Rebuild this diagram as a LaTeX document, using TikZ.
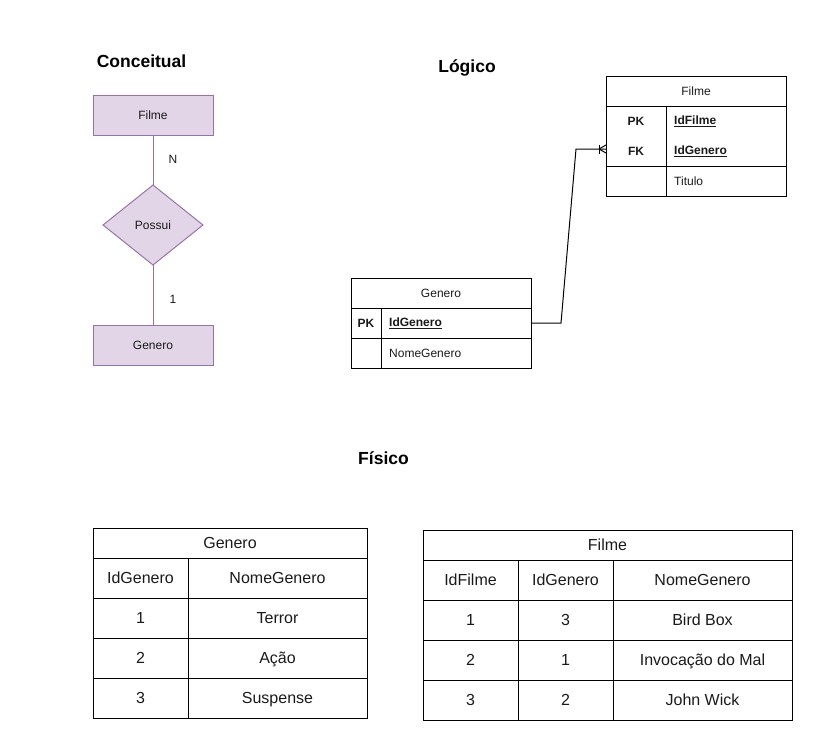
\documentclass[tikz,border=0pt]{standalone}
\usepackage{fontspec}
\setmainfont{Liberation Sans}
\usetikzlibrary{shapes.geometric}
\definecolor{erfill}{HTML}{E1D5E7}
\definecolor{erline}{HTML}{9673A6}
\definecolor{txt}{HTML}{1A1A1A}
\tikzset{
  titletext/.style={font=\fontsize{17.5}{20}\selectfont\bfseries, text=black, inner sep=0},
  smalltext/.style={font=\fontsize{12}{14}\selectfont, text=txt, inner sep=0},
  entbox/.style={rectangle, draw=erline, fill=erfill, line width=1pt, minimum width=120, minimum height=40, inner sep=0, outer sep=0, font=\fontsize{12}{14}\selectfont, text=txt},
  relbox/.style={diamond, draw=erline, fill=erfill, line width=1pt, minimum width=100, minimum height=80, inner sep=0, outer sep=0, font=\fontsize{12}{14}\selectfont, text=txt},
  erlink/.style={draw=erline, line width=1pt},
  lcell/.style={rectangle, draw=black, line width=1pt, inner sep=0, outer sep=0, anchor=north west, font=\fontsize{12}{14}\selectfont, text=txt, text height=8.6pt, text depth=0pt},
  pcell/.style={rectangle, draw=black, line width=1pt, inner sep=0, outer sep=0, anchor=north west, font=\fontsize{16}{19}\selectfont, text=txt, text height=11.5pt, text depth=0pt},
  keytext/.style={font=\fontsize{12}{14}\selectfont\bfseries, text=txt, inner sep=0},
  conn/.style={draw=black, line width=1pt},
}
\newcommand\tcell[7]{\node[#1, minimum width=#5, minimum height=#6] (#2) at (#3,#4) {#7};}
\begin{document}
\begin{tikzpicture}[x=1pt,y=-1pt]
\useasboundingbox (0,0) rectangle (826,755);

% ---------- Conceitual ----------
\node[titletext] (tconc) at (141.5,61) {Conceitual};
\node[entbox] (cfilme) at (153,115) {Filme};
\node[relbox] (cpossui) at (153,225) {Possui};
\node[entbox] (cgenero) at (153,345) {Genero};
\draw[erlink] (cfilme.south) -- (cpossui.north);
\draw[erlink] (cpossui.south) -- (cgenero.north);
\node[smalltext] (lN) at (173,159) {N};
\node[smalltext] (l1) at (173,299) {1};

% ---------- Logico ----------
\node[titletext] (tlog) at (467,68) {Lógico};

% Filme (logical)
\tcell{lcell}{lfh}{606}{76}{180}{30}{Filme}
\tcell{lcell}{lfk1}{606}{106}{60}{60}{}
\tcell{lcell}{lfa1}{666}{106}{120}{60}{}
\tcell{lcell}{lfk2}{606}{166}{60}{30}{}
\tcell{lcell}{lfa2}{666}{166}{120}{30}{}
\node[keytext] (lfpk) at (636,121) {PK};
\node[keytext] (lffk) at (636,151) {FK};
\node[keytext, anchor=west] (lfid) at (674,121) {\underline{IdFilme}};
\node[keytext, anchor=west] (lfidg) at (674,151) {\underline{IdGenero}};
\node[smalltext, anchor=west] (lftit) at (674,181) {Titulo};

% Genero (logical)
\tcell{lcell}{lgh}{351}{278}{180}{30}{Genero}
\tcell{lcell}{lgk1}{351}{308}{30}{30}{}
\tcell{lcell}{lga1}{381}{308}{150}{30}{}
\tcell{lcell}{lgk2}{351}{338}{30}{30}{}
\tcell{lcell}{lga2}{381}{338}{150}{30}{}
\node[keytext] (lgpk) at (366,323) {PK};
\node[keytext, anchor=west] (lgid) at (389,323) {\underline{IdGenero}};
\node[smalltext, anchor=west] (lgnome) at (389,353) {NomeGenero};

% connector with crow's foot (one or many)
\coordinate (fkin) at ([yshift=2pt]lfk1.west |- lffk);
\draw[conn] (lga1.east) -- ++(30,0) -- ([xshift=-30pt]fkin) -- (fkin);
\draw[conn] ([xshift=-7pt,yshift=4.5pt]fkin) -- ([xshift=-7pt,yshift=-4.5pt]fkin);
\draw[conn] ([xshift=-7pt]fkin) -- ([yshift=4pt]fkin);
\draw[conn] ([xshift=-7pt]fkin) -- ([yshift=-4pt]fkin);

% ---------- Fisico ----------
\node[titletext] (tfis) at (383.5,458) {Físico};

% Genero (physical)
\tcell{pcell}{pgh}{93}{528}{274}{30}{Genero}
\tcell{pcell}{pg01}{93}{558}{95}{40}{IdGenero}
\tcell{pcell}{pg02}{188}{558}{179}{40}{NomeGenero}
\tcell{pcell}{pg11}{93}{598}{95}{40}{1}
\tcell{pcell}{pg12}{188}{598}{179}{40}{Terror}
\tcell{pcell}{pg21}{93}{638}{95}{40}{2}
\tcell{pcell}{pg22}{188}{638}{179}{40}{Ação}
\tcell{pcell}{pg31}{93}{678}{95}{40}{3}
\tcell{pcell}{pg32}{188}{678}{179}{40}{Suspense}

% Filme (physical)
\tcell{pcell}{pfh}{423}{530}{369}{30}{Filme}
\tcell{pcell}{pf01}{423}{560}{95}{40}{IdFilme}
\tcell{pcell}{pf02}{518}{560}{95}{40}{IdGenero}
\tcell{pcell}{pf03}{613}{560}{179}{40}{NomeGenero}
\tcell{pcell}{pf11}{423}{600}{95}{40}{1}
\tcell{pcell}{pf12}{518}{600}{95}{40}{3}
\tcell{pcell}{pf13}{613}{600}{179}{40}{Bird Box}
\tcell{pcell}{pf21}{423}{640}{95}{40}{2}
\tcell{pcell}{pf22}{518}{640}{95}{40}{1}
\tcell{pcell}{pf23}{613}{640}{179}{40}{Invocação do Mal}
\tcell{pcell}{pf31}{423}{680}{95}{40}{3}
\tcell{pcell}{pf32}{518}{680}{95}{40}{2}
\tcell{pcell}{pf33}{613}{680}{179}{40}{John Wick}
\end{tikzpicture}
\end{document}
